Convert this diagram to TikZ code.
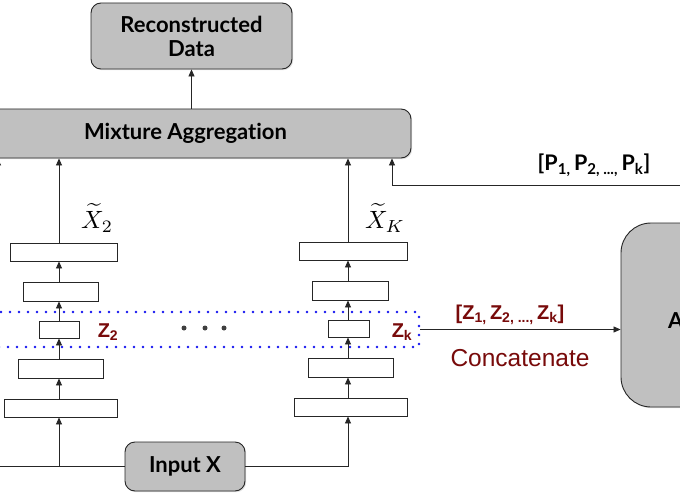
\documentclass[tikz,border=0pt]{standalone}
\usepackage{graphicx}
\usepackage{fontspec}
\setmainfont{Lato}[Ligatures=NoCommon]
\newfontfamily\arialf{Liberation Sans}
\usetikzlibrary{arrows.meta,shadows}
\definecolor{boxgray}{HTML}{C0C0C0}
\definecolor{zred}{HTML}{780A0A}
\definecolor{dotblue}{HTML}{1414F0}
\begin{document}
\begin{tikzpicture}[x=1pt,y=-1pt,
  shad/.style={drop shadow={opacity=0.25,shadow xshift=1.2pt,shadow yshift=-1.2pt}},
  graybox/.style={draw=black!85, fill=boxgray, line width=0.9pt, rounded corners=10pt,
    font=\fontsize{22}{24}\selectfont\bfseries, inner sep=0pt, align=center, shad},
  layer/.style={draw=black!85, fill=white, line width=0.9pt, inner sep=0pt, shad},
  conn/.style={line width=0.8pt, draw=black!85},
  arr/.style={conn, -{Triangle[length=7pt,width=6pt]}},
  zlab/.style={text=zred, font=\arialf\fontsize{20}{24}\selectfont\bfseries},
  mlab/.style={inner sep=1pt},
  dotnode/.style={circle, fill=black!75, inner sep=0pt, minimum size=5pt},
]
\useasboundingbox (0,0) rectangle (680,500);
\clip (0,0) rectangle (680,500);
\fill[white] (0,0) rectangle (680,500);

% main gray boxes
\node[graybox, minimum width=201pt, minimum height=66pt] (recon) at (191.5,36) {Reconstructed\\Data};
\node[graybox, minimum width=451pt, minimum height=49pt] (mix) at (185.5,133.5) {Mixture Aggregation};
\node[graybox, minimum width=120pt, minimum height=49pt] (inp) at (185,466.5) {Input X};
\node[graybox, rounded corners=30pt, minimum width=140pt, minimum height=184pt] (big) at (691,315) {};
\node[anchor=west, font=\fontsize{22}{24}\selectfont\bfseries, inner sep=0pt] (bigA) at (668,321) {A};

% column coordinates
\coordinate (c2) at (59,0);
\coordinate (ck) at (348,0);

% column 2 layers
\node[layer, minimum width=107pt, minimum height=18pt] (a1) at (63.5,252) {};
\node[layer, minimum width=75pt, minimum height=19pt] (a2) at (60.5,291.5) {};
\node[layer, minimum width=40pt, minimum height=17pt] (a3) at (59,329.5) {};
\node[layer, minimum width=85pt, minimum height=19pt] (a4) at (60.5,368.5) {};
\node[layer, minimum width=113pt, minimum height=18pt] (a5) at (60.5,408) {};

% column K layers
\node[layer, minimum width=108pt, minimum height=18pt] (k1) at (353,251) {};
\node[layer, minimum width=76pt, minimum height=19pt] (k2) at (350,290.5) {};
\node[layer, minimum width=41pt, minimum height=17pt] (k3) at (348.5,328.5) {};
\node[layer, minimum width=85pt, minimum height=19pt] (k4) at (350.5,367.5) {};
\node[layer, minimum width=113pt, minimum height=18pt] (k5) at (350.5,407) {};

% dotted latent band
\node[draw=dotblue, line width=2.6pt, dash pattern=on 0pt off 9pt, line cap=round,
      minimum width=429pt, minimum height=35pt, inner sep=0pt] (zbox) at (204.5,329.5) {};

% labels
\node[mlab] (xt2) at (97,218) {\scalebox{2.5}{$\widetilde{X}_2$}};
\node[mlab] (xtk) at (385,218) {\scalebox{2.5}{$\widetilde{X}_K$}};
\node[zlab] (z2) at (108,332) {Z\textsubscript{2}};
\node[zlab] (zk) at (402,332) {Z\textsubscript{k}};
\node[dotnode] (d1) at (184,328) {};
\node[dotnode] (d2) at (205,328) {};
\node[dotnode] (d3) at (224,328) {};
\node[zlab] (zcat) at (510,315) {[Z\textsubscript{1,}\,Z\textsubscript{2, ...,}\,Z\textsubscript{k}]};
\node[text=zred, font=\arialf\fontsize{24.5}{28}\selectfont] (cc) at (520,358) {Concatenate};
\node[font=\fontsize{21.5}{24}\selectfont\bfseries] (plab) at (594,165) {[P\textsubscript{1,}\,P\textsubscript{2, ...,}\,P\textsubscript{k}]};

% connectors
\draw[arr] (recon.south |- mix.north) -- (recon.south);
\coordinate (lft) at (-2,200);
\draw[arr] (lft) -- (lft |- mix.south);
\draw[arr] (a1.north -| c2) -- (mix.south -| c2);
\draw[arr] (k1.north -| ck) -- (mix.south -| ck);
\coordinate (pr) at (700,185);
\coordinate (pc) at (392,185);
\draw[arr] (pr) -- (pc) -- (pc |- mix.south);

\draw[arr] (a2.north -| c2) -- (a1.south -| c2);
\draw[arr] (a3.north -| c2) -- (a2.south -| c2);
\draw[arr] (a4.north -| c2) -- (a3.south -| c2);
\draw[arr] (a5.north -| c2) -- (a4.south -| c2);
\draw[arr] (k2.north -| ck) -- (k1.south -| ck);
\draw[arr] (k3.north -| ck) -- (k2.south -| ck);
\draw[arr] (k4.north -| ck) -- (k3.south -| ck);
\draw[arr] (k5.north -| ck) -- (k4.south -| ck);

\coordinate (inl) at (-10,466.5);
\draw[conn] (inp.west) -- (inl);
\draw[arr] (inp.west -| c2) -- (a5.south -| c2);
\draw[arr] (inp.east) -| (k5.south -| ck);

\draw[arr] (zbox.east) -- (zbox.east -| big.west);
\end{tikzpicture}
\end{document}
